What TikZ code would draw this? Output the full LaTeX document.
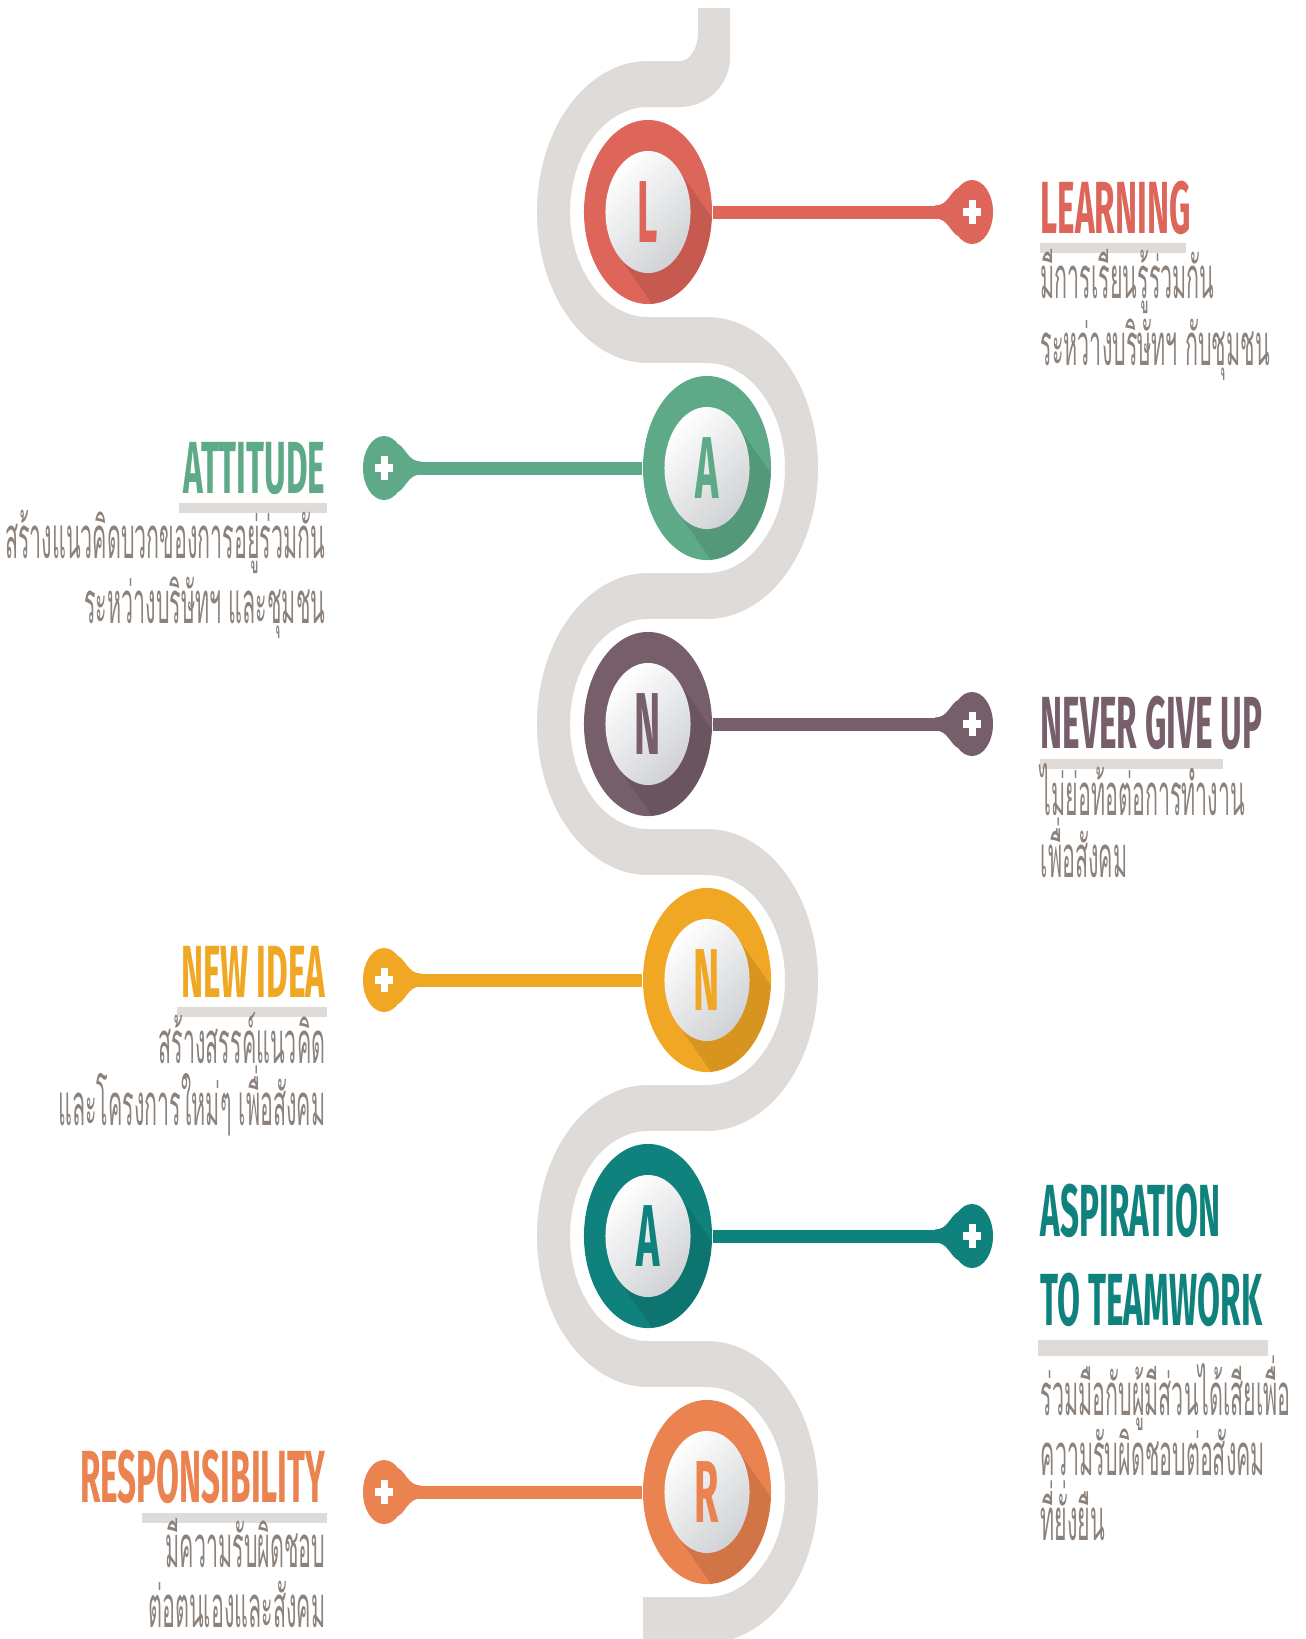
\documentclass[tikz,border=0pt]{standalone}
\usepackage{fontspec}
\usetikzlibrary{shapes.geometric}
\newfontfamily\headfont[FakeStretch=0.45]{Fira Sans}
\newfontfamily\thaifont[Script=Thai,FakeStretch=0.37]{Loma}
\definecolor{bandgray}{RGB}{222,219,216}
\definecolor{facegray}{RGB}{208,210,213}
\definecolor{textgray}{RGB}{140,130,124}
\definecolor{lred}{RGB}{221,101,90}
\definecolor{lgreen}{RGB}{94,170,136}
\definecolor{lpurple}{RGB}{119,94,107}
\definecolor{lyellow}{RGB}{240,167,35}
\definecolor{lteal}{RGB}{16,130,125}
\definecolor{lorange}{RGB}{234,131,79}
\begin{document}
\begin{tikzpicture}[x=0.01cm, y=-0.01cm,
  band/.style={fill=bandgray},
  ring/.style={ellipse, minimum width=1.28cm, minimum height=1.84cm, inner sep=0},
  ring shadow/.style={fill=black, fill opacity=0.1},
  face/.style={ellipse, minimum width=0.85cm, minimum height=1.22cm, inner sep=0,
    top color=white, bottom color=facegray, shading angle=45,
    font=\headfont\bfseries\fontsize{25}{25}\selectfont},
  pin head/.style={ellipse, minimum width=0.42cm, minimum height=0.64cm, inner sep=0},
  bar/.style={line width=0.13cm},
  plus arm/.style={fill=white},
  head text/.style={inner sep=0, font=\headfont\bfseries\fontsize{21}{21}\selectfont},
  body text/.style={inner sep=0, text=textgray, font=\thaifont\fontsize{16.5}{16.5}\selectfont},
  rule bar/.style={fill=bandgray}]
\useasboundingbox (0,0) rectangle (1306,1639);

% the winding band
\fill[band] (644,61) -- (680,61) arc[start angle=90, end angle=0, x radius=18, y radius=28]
  -- (698,8) -- (730,8) -- (730,57) arc[start angle=0, end angle=90, x radius=50, y radius=50]
  -- (644,107) -- cycle;
\fill[band] (648,61) arc[start angle=270, end angle=90, x radius=111, y radius=151]
  -- (648,317) arc[start angle=90, end angle=270, x radius=78, y radius=105] -- cycle;
\fill[band] (644,317) rectangle (711,363);
\fill[band] (707,317) arc[start angle=-90, end angle=90, x radius=111, y radius=151]
  -- (707,573) arc[start angle=90, end angle=-90, x radius=78, y radius=105] -- cycle;
\fill[band] (644,573) rectangle (711,619);
\fill[band] (648,573) arc[start angle=270, end angle=90, x radius=111, y radius=151]
  -- (648,829) arc[start angle=90, end angle=270, x radius=78, y radius=105] -- cycle;
\fill[band] (644,829) rectangle (711,875);
\fill[band] (707,829) arc[start angle=-90, end angle=90, x radius=111, y radius=151]
  -- (707,1085) arc[start angle=90, end angle=-90, x radius=78, y radius=105] -- cycle;
\fill[band] (644,1085) rectangle (711,1131);
\fill[band] (648,1085) arc[start angle=270, end angle=90, x radius=111, y radius=151]
  -- (648,1341) arc[start angle=90, end angle=270, x radius=78, y radius=105] -- cycle;
\fill[band] (644,1341) rectangle (711,1387);
\fill[band] (707,1341) arc[start angle=-90, end angle=90, x radius=111, y radius=151]
  -- (707,1597) arc[start angle=90, end angle=-90, x radius=78, y radius=105] -- cycle;
\fill[band] (643,1597) rectangle (711,1643);

% L
\node[ring, fill=lred] (Ring 1) at (648,212) {};
\begin{scope}
\clip (648,212) ellipse [x radius=64, y radius=92];
\fill[ring shadow] (678,169) -- (828,384) -- (768,470) -- (618,255) -- cycle;
\end{scope}
\node[face, text=lred] (Face 1) at (648,212) {L};
\node[pin head, fill=lred] (Pin 1) at (972,212) {};
\draw[bar, lred] (Ring 1) -- (Pin 1);
\fill[lred] (935,205.5) .. controls (948,205.5) and (950,192) .. (958,188) -- (958,236)
  .. controls (950,232) and (948,218.5) .. (935,218.5) -- cycle;
\fill[plus arm] (963,208) rectangle (981,216);
\fill[plus arm] (968.5,200) rectangle (975.5,224);
\node[head text, text=lred, anchor=base west] (Title 1) at (1040,233) {LEARNING};
\fill[rule bar] (1040,243) rectangle (1186,253);
\node[body text, anchor=base west] (Text 1a) at (1040,298) {มีการเรียนรู้ร่วมกัน};
\node[body text, anchor=base west] (Text 1b) at (1040,365) {ระหว่างบริษัทฯ กับชุมชน};

% A
\node[ring, fill=lgreen] (Ring 2) at (707,468) {};
\begin{scope}
\clip (707,468) ellipse [x radius=64, y radius=92];
\fill[ring shadow] (737,425) -- (887,640) -- (827,726) -- (677,511) -- cycle;
\end{scope}
\node[face, text=lgreen] (Face 2) at (707,468) {A};
\node[pin head, fill=lgreen] (Pin 2) at (384,468) {};
\draw[bar, lgreen] (Ring 2) -- (Pin 2);
\fill[lgreen] (421,461.5) .. controls (408,461.5) and (406,448) .. (398,444) -- (398,492)
  .. controls (406,488) and (408,474.5) .. (421,474.5) -- cycle;
\fill[plus arm] (375,464) rectangle (393,472);
\fill[plus arm] (380.5,456) rectangle (387.5,480);
\node[head text, text=lgreen, anchor=base east] (Title 2) at (326,493) {ATTITUDE};
\fill[rule bar] (179,503) rectangle (327,513);
\node[body text, anchor=base east] (Text 2a) at (326,558) {สร้างแนวคิดบวกของการอยู่ร่วมกัน};
\node[body text, anchor=base east] (Text 2b) at (326,623) {ระหว่างบริษัทฯ และชุมชน};

% N
\node[ring, fill=lpurple] (Ring 3) at (648,724) {};
\begin{scope}
\clip (648,724) ellipse [x radius=64, y radius=92];
\fill[ring shadow] (678,681) -- (828,896) -- (768,982) -- (618,767) -- cycle;
\end{scope}
\node[face, text=lpurple] (Face 3) at (648,724) {N};
\node[pin head, fill=lpurple] (Pin 3) at (972,724) {};
\draw[bar, lpurple] (Ring 3) -- (Pin 3);
\fill[lpurple] (935,717.5) .. controls (948,717.5) and (950,704) .. (958,700) -- (958,748)
  .. controls (950,744) and (948,730.5) .. (935,730.5) -- cycle;
\fill[plus arm] (963,720) rectangle (981,728);
\fill[plus arm] (968.5,712) rectangle (975.5,736);
\node[head text, text=lpurple, anchor=base west] (Title 3) at (1040,748) {NEVER GIVE UP};
\fill[rule bar] (1040,759) rectangle (1223,769);
\node[body text, anchor=base west] (Text 3a) at (1040,815) {ไม่ย่อท้อต่อการทำงาน};
\node[body text, anchor=base west] (Text 3b) at (1040,877) {เพื่อสังคม};

% N
\node[ring, fill=lyellow] (Ring 4) at (707,980) {};
\begin{scope}
\clip (707,980) ellipse [x radius=64, y radius=92];
\fill[ring shadow] (737,937) -- (887,1152) -- (827,1238) -- (677,1023) -- cycle;
\end{scope}
\node[face, text=lyellow] (Face 4) at (707,980) {N};
\node[pin head, fill=lyellow] (Pin 4) at (384,980) {};
\draw[bar, lyellow] (Ring 4) -- (Pin 4);
\fill[lyellow] (421,973.5) .. controls (408,973.5) and (406,960) .. (398,956) -- (398,1004)
  .. controls (406,1000) and (408,986.5) .. (421,986.5) -- cycle;
\fill[plus arm] (375,976) rectangle (393,984);
\fill[plus arm] (380.5,968) rectangle (387.5,992);
\node[head text, text=lyellow, anchor=base east] (Title 4) at (326,997) {NEW IDEA};
\fill[rule bar] (177,1007) rectangle (327,1017);
\node[body text, anchor=base east] (Text 4a) at (326,1063) {สร้างสรรค์แนวคิด};
\node[body text, anchor=base east] (Text 4b) at (326,1125) {และโครงการใหม่ๆ เพื่อสังคม};

% A
\node[ring, fill=lteal] (Ring 5) at (648,1236) {};
\begin{scope}
\clip (648,1236) ellipse [x radius=64, y radius=92];
\fill[ring shadow] (678,1193) -- (828,1408) -- (768,1494) -- (618,1279) -- cycle;
\end{scope}
\node[face, text=lteal] (Face 5) at (648,1236) {A};
\node[pin head, fill=lteal] (Pin 5) at (972,1236) {};
\draw[bar, lteal] (Ring 5) -- (Pin 5);
\fill[lteal] (935,1229.5) .. controls (948,1229.5) and (950,1216) .. (958,1212) -- (958,1260)
  .. controls (950,1256) and (948,1242.5) .. (935,1242.5) -- cycle;
\fill[plus arm] (963,1232) rectangle (981,1240);
\fill[plus arm] (968.5,1224) rectangle (975.5,1248);
\node[head text, text=lteal, anchor=base west] (Title 5a) at (1040,1236) {ASPIRATION};
\node[head text, text=lteal, anchor=base west] (Title 5b) at (1040,1325) {TO TEAMWORK};
\fill[rule bar] (1038,1340) rectangle (1268,1356);
\node[body text, anchor=base west] (Text 5a) at (1040,1415) {ร่วมมือกับผู้มีส่วนได้เสียเพื่อ};
\node[body text, anchor=base west] (Text 5b) at (1040,1475) {ความรับผิดชอบต่อสังคม};
\node[body text, anchor=base west] (Text 5c) at (1040,1540) {ที่ยั่งยืน};

% R
\node[ring, fill=lorange] (Ring 6) at (707,1492) {};
\begin{scope}
\clip (707,1492) ellipse [x radius=64, y radius=92];
\fill[ring shadow] (737,1449) -- (887,1664) -- (827,1750) -- (677,1535) -- cycle;
\end{scope}
\node[face, text=lorange] (Face 6) at (707,1492) {R};
\node[pin head, fill=lorange] (Pin 6) at (384,1492) {};
\draw[bar, lorange] (Ring 6) -- (Pin 6);
\fill[lorange] (421,1485.5) .. controls (408,1485.5) and (406,1472) .. (398,1468) -- (398,1516)
  .. controls (406,1512) and (408,1498.5) .. (421,1498.5) -- cycle;
\fill[plus arm] (375,1488) rectangle (393,1496);
\fill[plus arm] (380.5,1480) rectangle (387.5,1504);
\node[head text, text=lorange, anchor=base east] (Title 6) at (326,1502) {RESPONSIBILITY};
\fill[rule bar] (142,1513) rectangle (327,1523);
\node[body text, anchor=base east] (Text 6a) at (326,1567) {มีความรับผิดชอบ};
\node[body text, anchor=base east] (Text 6b) at (326,1627) {ต่อตนเองและสังคม};
\end{tikzpicture}
\end{document}
